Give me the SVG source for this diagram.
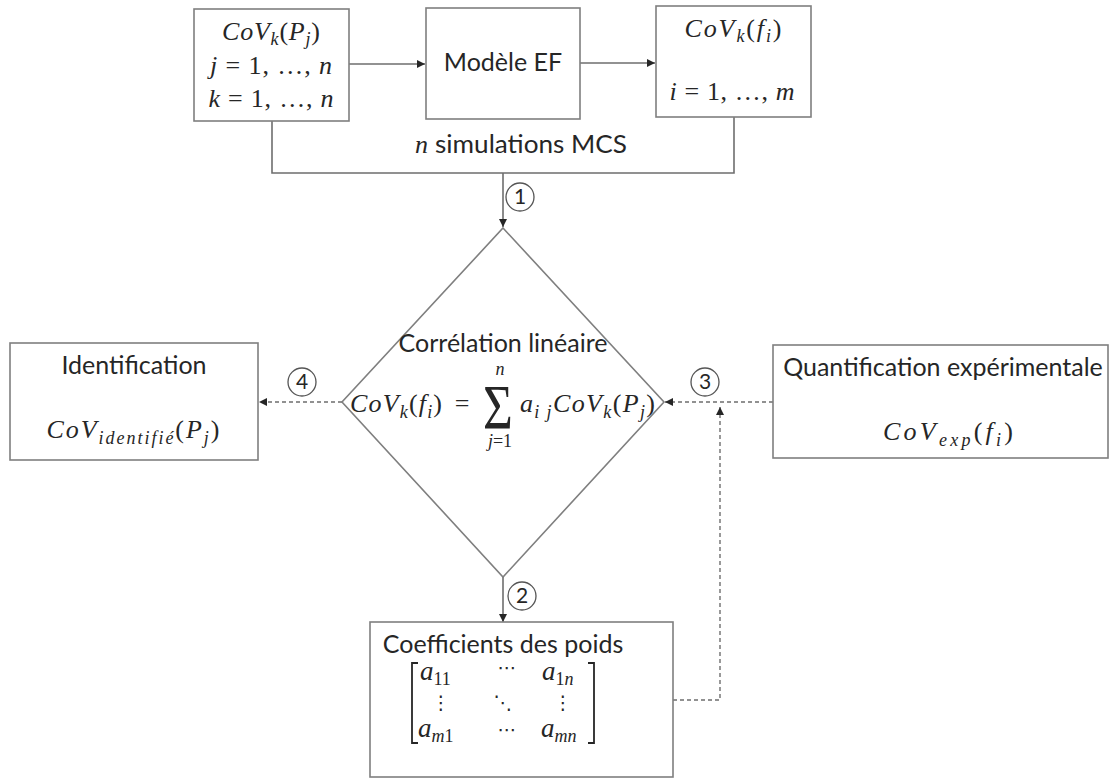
<svg xmlns="http://www.w3.org/2000/svg" width="1110" height="778" viewBox="0 0 1110 778">
<style>
.box{fill:#fff;stroke:#7f7f7f;stroke-width:1.6}
.ln{fill:none;stroke:#6e6e6e;stroke-width:1.6}
.ds{fill:none;stroke:#6e6e6e;stroke-width:1.4;stroke-dasharray:4 3}
.t{font-family:Lato,"Open Sans","Liberation Sans",sans-serif;font-size:25px;fill:#262626}
.m{font-family:"Liberation Serif","DejaVu Serif",serif;font-style:italic;font-size:26px;fill:#262626}
.u{font-style:normal}
.s{font-size:18px}
.cn{fill:#fff;stroke:#555;stroke-width:1.3}
.cd{font-family:Lato,"Open Sans","Liberation Sans",sans-serif;font-size:21px;fill:#262626;text-anchor:middle}
.g{font-family:"DejaVu Sans",sans-serif;font-size:19px;fill:#262626;text-anchor:middle}
</style>
<defs>
<marker id="ah" viewBox="0 0 10 10" refX="10" refY="5" markerWidth="8" markerHeight="8" markerUnits="userSpaceOnUse" orient="auto"><path d="M0,0L10,5L0,10z" fill="#262626"/></marker>
</defs>
<rect width="1110" height="778" fill="#fff"/>
<g id="connectors">
<line class="ln" x1="349" y1="64" x2="425" y2="64" marker-end="url(#ah)"/>
<line class="ln" x1="580" y1="63" x2="655" y2="63" marker-end="url(#ah)"/>
<polyline class="ln" points="272,121 272,173 734,173 734,117"/>
<line class="ln" x1="503" y1="173" x2="503" y2="227" marker-end="url(#ah)"/>
<line class="ln" x1="503" y1="577" x2="503" y2="622" marker-end="url(#ah)"/>
<line class="ds" x1="342" y1="402" x2="259" y2="402" marker-end="url(#ah)"/>
<line class="ds" x1="773" y1="402" x2="665" y2="402" marker-end="url(#ah)"/>
<polyline class="ds" points="673,700 720,700 720,407" marker-end="url(#ah)"/>
<circle class="cn" cx="520" cy="197" r="14"/><text class="cd" x="520" y="204">1</text>
<circle class="cn" cx="522" cy="596" r="14"/><text class="cd" x="522" y="603">2</text>
<circle class="cn" cx="705" cy="382" r="14"/><text class="cd" x="705" y="389">3</text>
<circle class="cn" cx="302" cy="382" r="14"/><text class="cd" x="302" y="389">4</text>
<text x="415" y="153" class="m">n</text><text x="435" y="153" class="t" textLength="192" lengthAdjust="spacingAndGlyphs">simulations MCS</text>
</g>
<g id="node-input">
<rect class="box" x="194" y="9" width="155" height="112"/>
<text x="271" y="40" class="m" text-anchor="middle" textLength="98">CoV<tspan class="s" dy="5">k</tspan><tspan class="u" dy="-5">(</tspan>P<tspan class="s" dy="5">j</tspan><tspan class="u" dy="-5">)</tspan></text>
<text x="271" y="74" class="m" text-anchor="middle" textLength="122">j <tspan class="u">= 1, …,</tspan> n</text>
<text x="271" y="107" class="m" text-anchor="middle" textLength="125">k <tspan class="u">= 1, …,</tspan> n</text>
</g>
<g id="node-model">
<rect class="box" x="426" y="8" width="154" height="111"/>
<text x="503" y="71" class="t" text-anchor="middle">Modèle EF</text>
</g>
<g id="node-output">
<rect class="box" x="656" y="6" width="155" height="111"/>
<text x="733" y="37" class="m" text-anchor="middle" textLength="97">CoV<tspan class="s" dy="5">k</tspan><tspan class="u" dy="-5">(</tspan>f<tspan class="s" dy="5">i</tspan><tspan class="u" dy="-5">)</tspan></text>
<text x="732" y="100" class="m" text-anchor="middle" textLength="125">i <tspan class="u">= 1, …,</tspan> m</text>
</g>
<g id="node-correlation">
<polygon class="box" points="503,228 664,402 503,577 342,402"/>
<text x="503" y="352" class="t" text-anchor="middle">Corrélation linéaire</text>
<text x="350" y="412" class="m" textLength="92">CoV<tspan class="s" dy="6">k</tspan><tspan class="u" dy="-6">(</tspan>f<tspan class="s" dy="6">i</tspan><tspan class="u" dy="-6">)</tspan></text>
<text x="462" y="412" class="m u" text-anchor="middle">=</text>
<text transform="translate(498,429) scale(0.8,1)" style="font-family:'Liberation Serif',serif;font-size:64px;fill:#262626" text-anchor="middle">Σ</text>
<text x="500" y="375" class="m s" text-anchor="middle">n</text>
<text x="500" y="447" class="m s" text-anchor="middle">j<tspan class="u">=1</tspan></text>
<text x="520" y="412" class="m" textLength="135">a<tspan class="s" dy="6">i j</tspan><tspan dy="-6">CoV</tspan><tspan class="s" dy="6">k</tspan><tspan class="u" dy="-6">(</tspan>P<tspan class="s" dy="6">j</tspan><tspan class="u" dy="-6">)</tspan></text>
</g>
<g id="node-identification">
<rect class="box" x="10" y="343" width="248" height="117"/>
<text x="134" y="374" class="t" text-anchor="middle">Identification</text>
<text x="133" y="438" class="m" text-anchor="middle" textLength="173">CoV<tspan class="s" dy="6">identifié</tspan><tspan class="u" dy="-6">(</tspan>P<tspan class="s" dy="6">j</tspan><tspan class="u" dy="-6">)</tspan></text>
</g>
<g id="node-quantification">
<rect class="box" x="773" y="345" width="335" height="113"/>
<text x="943" y="376" class="t" text-anchor="middle">Quantification expérimentale</text>
<text x="948" y="440" class="m" text-anchor="middle" textLength="130">CoV<tspan class="s" dy="6">exp</tspan><tspan class="u" dy="-6">(</tspan>f<tspan class="s" dy="6">i</tspan><tspan class="u" dy="-6">)</tspan></text>
</g>
<g id="node-weights">
<rect class="box" x="370" y="622" width="303" height="155"/>
<text x="503" y="653" class="t" text-anchor="middle">Coefficients des poids</text>
<path d="M418,663H412V743H418M588,663H594V743H588" fill="none" stroke="#262626" stroke-width="1.8"/>
<text x="420" y="680" class="m" style="font-size:27px">a<tspan class="u s" dy="5">11</tspan></text>
<text x="542" y="680" class="m" style="font-size:27px">a<tspan class="u s" dy="5">1</tspan><tspan class="s">n</tspan></text>
<text x="418" y="737" class="m" style="font-size:27px">a<tspan class="s" dy="5">m</tspan><tspan class="u s">1</tspan></text>
<text x="541" y="737" class="m" style="font-size:27px">a<tspan class="s" dy="5">mn</tspan></text>
<text x="507" y="674" class="g">⋯</text>
<text x="507" y="736" class="g">⋯</text>
<text x="441" y="709" class="g">⋮</text>
<text x="503" y="709" class="g">⋱</text>
<text x="563" y="709" class="g">⋮</text>
</g>
</svg>
